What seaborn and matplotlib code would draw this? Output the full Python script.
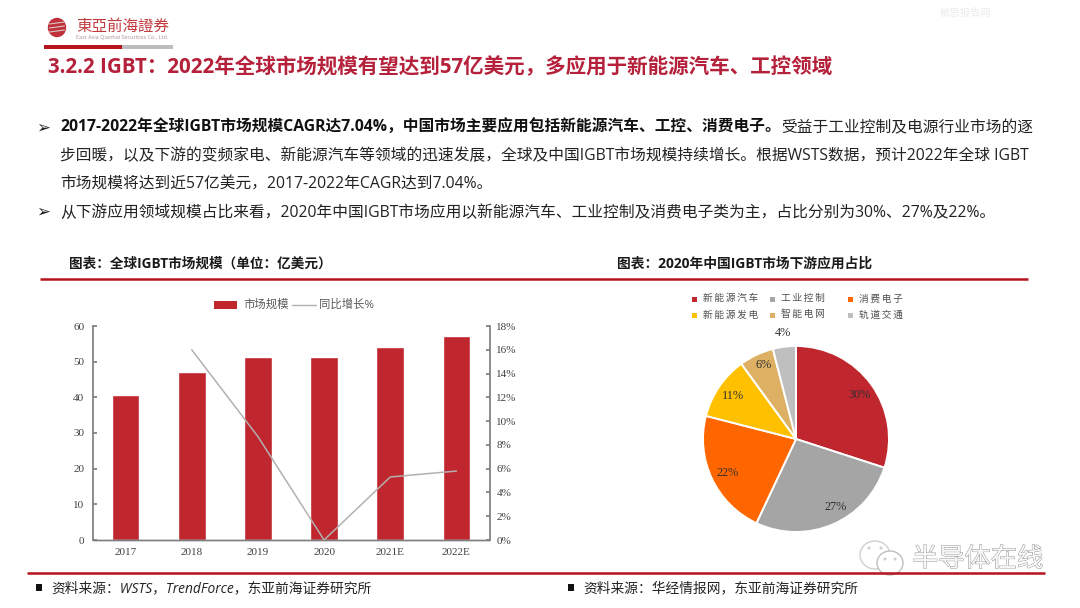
'''
script to redraw the IGBT market slide
'''
import matplotlib
matplotlib.use('Agg')
import pandas as pd
import seaborn as sns
import matplotlib.pyplot as plt
import matplotlib.patheffects as pe
from matplotlib.patches import Ellipse, Rectangle

years = ["2017", "2018", "2019", "2020", "2021E", "2022E"]
market_size = [40.6, 47.2, 51.3, 51.3, 54.1, 57.2]
yoy_growth = [None, 16.0, 8.7, 0.0, 5.3, 5.8]
size_ticks = [0, 10, 20, 30, 40, 50, 60]
growth_ticks = [0, 2, 4, 6, 8, 10, 12, 14, 16, 18]

segments = ["新能源汽车", "工业控制", "消费电子", "新能源发电", "智能电网", "轨道交通"]
shares = [30, 27, 22, 11, 6, 4]
share_labels = ["30%", "27%", "22%", "11%", "6%", "4%"]
segment_colors = ["#C0262E", "#A5A5A5", "#FF6600", "#FFC000", "#DDB064", "#BFBFBF"]

title = "3.2.2 IGBT：2022年全球市场规模有望达到57亿美元，多应用于新能源汽车、工控领域"
bold_lead = "2017-2022年全球IGBT市场规模CAGR达7.04%，中国市场主要应用包括新能源汽车、工控、消费电子。"
rest_lead = "受益于工业控制及电源行业市场的逐"
body_line2 = "步回暖，以及下游的变频家电、新能源汽车等领域的迅速发展，全球及中国IGBT市场规模持续增长。根据WSTS数据，预计2022年全球 IGBT"
body_line3 = "市场规模将达到近57亿美元，2017-2022年CAGR达到7.04%。"
body_line4 = "从下游应用领域规模占比来看，2020年中国IGBT市场应用以新能源汽车、工业控制及消费电子类为主，占比分别为30%、27%及22%。"
left_title = "图表：全球IGBT市场规模（单位：亿美元）"
right_title = "图表：2020年中国IGBT市场下游应用占比"
left_source = "资料来源：WSTS，TrendForce，东亚前海证券研究所"
right_source = "资料来源：华经情报网，东亚前海证券研究所"

RED = "#C0262E"
SANS = ['Open Sans', 'Noto Sans CJK SC', 'DejaVu Sans']
SERIF = ['Liberation Serif', 'Noto Sans CJK SC']
W, H = 1080, 608


def main():
    sns.set_theme(style="white")
    plt.rcParams['font.family'] = SANS
    fig = plt.figure(figsize=(W / 100, H / 100), dpi=100, facecolor="white")

    # whole slide layer in pixel coordinates, for everything that is not a chart
    bg = fig.add_axes([0, 0, 1, 1], zorder=0)
    bg.set_xlim(0, W)
    bg.set_ylim(H, 0)
    bg.axis("off")

    # logo
    bg.add_patch(Ellipse((57, 27.5), 17, 18, color="#C0303A"))
    for y in (23, 27, 31):
        bg.plot([49.5, 64.5], [y + 1, y - 1], color="#D8C8C8", lw=0.8)
    bg.text(76, 27, "東亞前海證券", color="#C23A3E", fontsize=11.2, va="center")
    bg.text(76, 38, "East Asia Qianhai Securities Co., Ltd.", color="#B09090", fontsize=4.0, va="center")
    bg.add_patch(Rectangle((44, 45), 78, 4, color="#B5141E", lw=0))
    bg.add_patch(Rectangle((122, 45), 51, 4, color="#BDBDBD", lw=0))
    bg.text(940, 13, "敏思报告网", color="#ECECEC", fontsize=7.5, va="center")

    bg.text(48, 68, title, color="#B5203A", fontsize=14.8, fontweight="bold", va="center")

    # bullet text
    for y in (128, 212):
        bg.text(36, y, "➢", color="#222222", fontsize=12, va="center", family=['DejaVu Sans'])
    t = bg.text(60, 128, bold_lead, color="#111111", fontsize=11.3, fontweight="bold", va="center")
    fig.canvas.draw()
    end = t.get_window_extent().x1
    bg.text(end, 128, rest_lead, color="#222222", fontsize=11.3, va="center")
    bg.text(60, 156, body_line2, color="#222222", fontsize=11.3, va="center")
    bg.text(60, 184, body_line3, color="#222222", fontsize=11.3, va="center")
    bg.text(60, 213, body_line4, color="#222222", fontsize=11.3, va="center")

    # chart headings and rules
    bg.text(69, 264, left_title, color="#1A1A1A", fontsize=9.8, fontweight="bold", va="center")
    bg.text(617, 264, right_title, color="#1A1A1A", fontsize=9.9, fontweight="bold", va="center")
    bg.plot([40, 1028], [279, 279], color="#B5141E", lw=1.8, solid_capstyle="butt")
    bg.plot([27, 1045], [573, 573], color="#B5141E", lw=1.8, solid_capstyle="butt")

    # sources
    for x, text in ((36, left_source), (568, right_source)):
        bg.add_patch(Rectangle((x, 584), 6, 7, color="#111111", lw=0))
        bg.text(x + 15, 589, text, color="#222222", fontsize=9.9, style="italic", va="center")

    # watermark
    bg.add_patch(Ellipse((875, 555), 30, 28, fc="white", ec="#CFCFCF", lw=1))
    bg.add_patch(Ellipse((890, 563), 26, 24, fc="white", ec="#BFBFBF", lw=1))
    for x, y in ((869, 548), (881, 548), (885, 559), (895, 559)):
        bg.add_patch(Ellipse((x, y), 3, 3, fc="#D0D0D0", lw=0))
    bg.text(912, 560, "半导体在线", color="#F8F8F8", fontsize=18.9, va="center",
            path_effects=[pe.withStroke(linewidth=0.6, foreground="#8A8A8A")])

    # bar chart with growth line
    ax = fig.add_axes([92.5 / W, 1 - 540 / H, 397 / W, 214 / H], zorder=1)
    ax.patch.set_alpha(0)
    df = pd.DataFrame({"year": years, "size": market_size, "growth": yoy_growth})
    sns.barplot(data=df, x="year", y="size", color=RED, saturation=1, width=0.42, ax=ax, zorder=2)
    ax.set_xlim(-0.5, 5.5)
    ax.set_ylim(0, 60)
    ax.set_yticks(size_ticks)
    ax.set_xlabel("")
    ax.set_ylabel("")
    ax2 = ax.twinx()
    ax2.patch.set_alpha(0)
    sns.lineplot(data=df, x="year", y="growth", color="#B4B0AE", lw=1.1, sort=False, ax=ax2, zorder=3)
    ax2.set_ylim(0, 18)
    ax2.set_yticks(growth_ticks)
    ax2.set_yticklabels([f"{v}%" for v in growth_ticks])
    ax2.set_ylabel("")
    for a in (ax, ax2):
        for side in ("top", "left", "right"):
            a.spines[side].set_visible(False)
        a.spines["bottom"].set_visible(True)
        a.spines["bottom"].set_color("#7F7F7F")
        a.spines["bottom"].set_linewidth(1)
    ax.spines["left"].set_visible(True)
    ax.spines["left"].set_color("#7F7F7F")
    ax2.spines["right"].set_visible(True)
    ax2.spines["right"].set_color("#7F7F7F")
    ax.tick_params(axis="y", left=True, direction="in", length=3, color="#7F7F7F", labelsize=8.0, labelcolor="#404040", pad=6)
    ax.tick_params(axis="x", bottom=False, length=0, labelsize=8.0, labelcolor="#404040", pad=6)
    ax2.tick_params(axis="y", right=True, direction="in", length=3, color="#7F7F7F", labelsize=8.0, labelcolor="#404040", pad=5)
    for label in ax.get_xticklabels() + ax.get_yticklabels() + ax2.get_yticklabels():
        label.set_fontfamily(SERIF)

    # legend of the bar chart, drawn by hand since it sits centred above both axes
    bg.add_patch(Rectangle((214, 301), 23, 8, color=RED, lw=0))
    bg.text(243, 305, "市场规模", color="#595959", fontsize=8.2, va="center")
    bg.plot([292, 316], [305, 305], color="#B4B0AE", lw=1)
    bg.text(319, 305, "同比增长%", color="#595959", fontsize=8.2, va="center")

    # pie chart
    r = 93
    pie_ax = fig.add_axes([(796 - r) / W, 1 - (439 + r) / H, 2 * r / W, 2 * r / H], zorder=1)
    pie_ax.pie(shares, colors=sns.color_palette(segment_colors), startangle=90, counterclock=False,
               radius=1, wedgeprops=dict(edgecolor="white", linewidth=1.4))
    pie_ax.set_xlim(-1, 1)
    pie_ax.set_ylim(-1, 1)
    label_pos = [(0.68, 0.47), (0.43, -0.73), (-0.74, -0.37), (-0.68, 0.46), (-0.35, 0.80), (-0.14, 1.135)]
    for (x, y), text in zip(label_pos, share_labels):
        pie_ax.text(x, y, text, ha="center", va="center", fontsize=8.8, color="#303030", family=SERIF, clip_on=False)

    leg = [(692, 299), (770, 299), (848, 299), (692, 315), (770, 315), (848, 315)]
    for (x, y), name, color in zip(leg, segments, segment_colors):
        bg.add_patch(Rectangle((x, y - 2.5), 5, 5, color=color, lw=0))
        bg.text(x + 11, y, "\u2009".join(name), color="#505050", fontsize=7.0, va="center")

    fig.savefig("out.png", dpi=100)


if __name__ == "__main__":
    main()
